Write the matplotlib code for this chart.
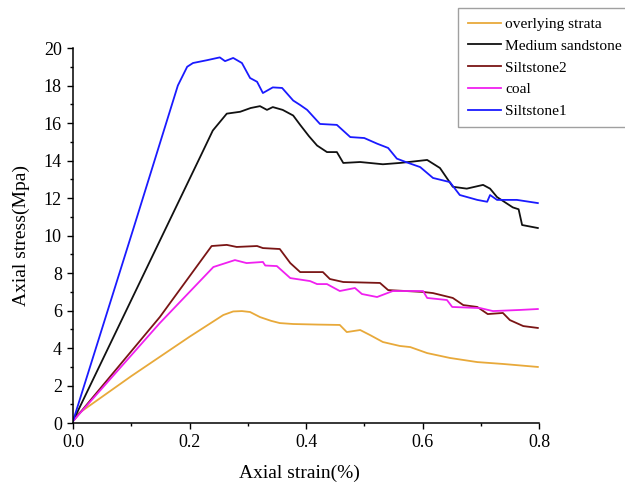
import numpy as np
import matplotlib.pyplot as plt
from matplotlib.ticker import MultipleLocator

plt.rcParams['font.family'] = ['Liberation Serif', 'DejaVu Serif']

# stress-strain curves read as (strain %, stress MPa) vertices
overlying_strain = [0.0, 0.10, 0.20, 0.258, 0.275, 0.29, 0.304, 0.321, 0.34, 0.355, 0.378, 0.42,
                    0.458, 0.47, 0.493, 0.51, 0.532, 0.561, 0.579, 0.608, 0.647, 0.694, 0.738, 0.798]
overlying_stress = [0.3, 2.5, 4.6, 5.76, 5.95, 5.97, 5.92, 5.65, 5.45, 5.33, 5.28, 5.25,
                    5.23, 4.85, 4.96, 4.69, 4.32, 4.11, 4.05, 3.73, 3.47, 3.25, 3.15, 2.99]

sandstone_strain = [0.0, 0.158, 0.22, 0.24, 0.264, 0.287, 0.305, 0.321, 0.333, 0.343, 0.36, 0.378,
                    0.39, 0.405, 0.419, 0.436, 0.453, 0.464, 0.493, 0.532, 0.561, 0.585, 0.608,
                    0.63, 0.652, 0.676, 0.704, 0.716, 0.728, 0.755, 0.765, 0.771, 0.798]
sandstone_stress = [0.1, 10.3, 14.3, 15.6, 16.5, 16.6, 16.8, 16.9, 16.7, 16.85, 16.7, 16.4,
                    15.9, 15.3, 14.8, 14.45, 14.45, 13.87, 13.92, 13.8, 13.87, 13.95, 14.03,
                    13.6, 12.6, 12.5, 12.7, 12.5, 12.05, 11.5, 11.4, 10.56, 10.4]

silt2_strain = [0.0, 0.149, 0.238, 0.264, 0.281, 0.316, 0.326, 0.355, 0.373, 0.39, 0.429, 0.441,
                0.464, 0.527, 0.541, 0.601, 0.618, 0.652, 0.67, 0.694, 0.712, 0.738, 0.75,
                0.773, 0.798]
silt2_stress = [0.1, 5.65, 9.44, 9.5, 9.39, 9.44, 9.33, 9.28, 8.53, 8.05, 8.05, 7.68,
                7.52, 7.47, 7.09, 6.99, 6.93, 6.67, 6.29, 6.19, 5.81, 5.87, 5.49,
                5.17, 5.07]

coal_strain = [0.0, 0.149, 0.241, 0.278, 0.298, 0.326, 0.33, 0.35, 0.373, 0.407, 0.419, 0.436,
               0.458, 0.484, 0.496, 0.522, 0.549, 0.601, 0.608, 0.642, 0.651, 0.699, 0.721,
               0.767, 0.798]
coal_stress = [0.1, 5.33, 8.32, 8.69, 8.53, 8.59, 8.4, 8.37, 7.73, 7.57, 7.41, 7.41,
               7.04, 7.2, 6.88, 6.72, 7.04, 7.04, 6.67, 6.56, 6.19, 6.13, 5.97,
               6.03, 6.08]

silt1_strain = [0.0, 0.103, 0.18, 0.196, 0.206, 0.23, 0.252, 0.261, 0.275, 0.29, 0.304, 0.316,
                0.326, 0.343, 0.359, 0.378, 0.39, 0.402, 0.424, 0.453, 0.476, 0.50, 0.522,
                0.541, 0.556, 0.573, 0.596, 0.618, 0.647, 0.664, 0.694, 0.711, 0.716, 0.728,
                0.762, 0.798]
silt1_stress = [0.1, 10.3, 18.0, 19.0, 19.2, 19.35, 19.5, 19.3, 19.47, 19.2, 18.4, 18.2,
                17.6, 17.9, 17.87, 17.2, 16.96, 16.7, 15.95, 15.9, 15.25, 15.2, 14.9,
                14.67, 14.1, 13.9, 13.65, 13.07, 12.85, 12.16, 11.9, 11.8, 12.16, 11.9,
                11.9, 11.73]

fig = plt.figure(figsize=(6.25, 4.86), dpi=100)
ax = fig.add_axes([0.1168, 0.1296, 0.7456, 0.7716])

ax.plot(overlying_strain, overlying_stress, color='#e8a93a', lw=1.3, label='overlying strata')
ax.plot(sandstone_strain, sandstone_stress, color='#111111', lw=1.3, label='Medium sandstone')
ax.plot(silt2_strain, silt2_stress, color='#7a1515', lw=1.3, label='Siltstone2')
ax.plot(coal_strain, coal_stress, color='#f020f0', lw=1.3, label='coal')
ax.plot(silt1_strain, silt1_stress, color='#1a1aff', lw=1.3, label='Siltstone1')

ax.set_xlim(0, 0.8)
ax.set_ylim(0, 20)
ax.xaxis.set_major_locator(MultipleLocator(0.2))
ax.xaxis.set_minor_locator(MultipleLocator(0.1))
ax.yaxis.set_major_locator(MultipleLocator(2))
ax.yaxis.set_minor_locator(MultipleLocator(1))
ax.tick_params(which='major', direction='out', length=4, width=1, labelsize=13, pad=4)
ax.tick_params(which='minor', direction='out', length=2, width=1)
ax.spines['top'].set_visible(False)
ax.spines['right'].set_visible(False)
ax.spines['left'].set_linewidth(1.1)
ax.spines['bottom'].set_linewidth(1.1)

ax.set_xlabel('Axial strain(%)', fontsize=14, labelpad=10, x=0.485)
ax.set_ylabel('Axial stress(Mpa)', fontsize=14, labelpad=10)

# legend sits above the plot, pushed against the right edge of the figure
leg = ax.legend(loc='upper left', bbox_to_anchor=(0.827, 1.107), fontsize=11.1,
                frameon=True, fancybox=False, edgecolor='#888888', handlelength=2.15,
                handletextpad=0.3, labelspacing=0.52, borderaxespad=0, borderpad=0.6)
leg.get_frame().set_linewidth(1.0)

fig.savefig('out.png', dpi=100)
